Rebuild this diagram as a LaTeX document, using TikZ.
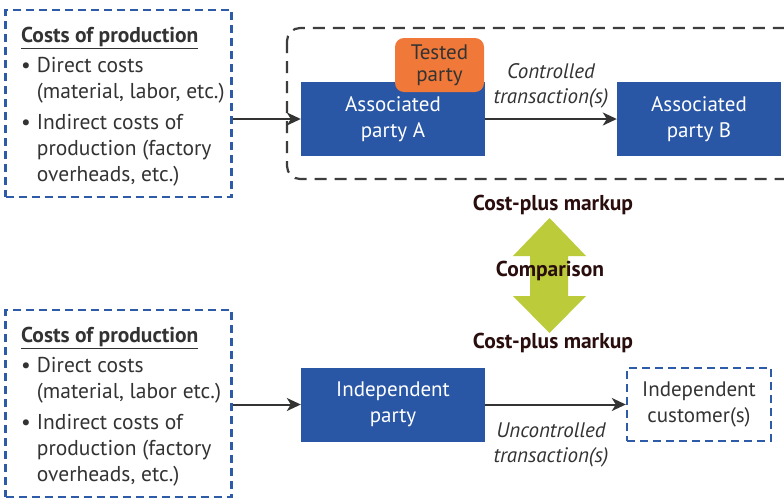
\documentclass[tikz,border=0pt]{standalone}
\usepackage{fontspec}
\setmainfont{PT Sans}
\usetikzlibrary{arrows.meta}
\definecolor{partyblue}{HTML}{2A57A5}
\definecolor{dashblue}{HTML}{2D5BA8}
\definecolor{testorange}{HTML}{F07838}
\definecolor{cmpgreen}{HTML}{BCCB3A}
\definecolor{inkgray}{HTML}{333333}
\definecolor{markupink}{HTML}{2A0E0E}
\tikzset{
  partybox/.style={fill=partyblue, text=white, minimum width=184pt, minimum height=74pt,
    align=center, inner sep=0pt, font=\fontsize{21}{25.5}\selectfont},
  costbox/.style={draw=dashblue, line width=2.4pt, dash pattern=on 8pt off 5pt,
    minimum width=226pt, minimum height=187pt, inner sep=0pt},
  custbox/.style={draw=dashblue, line width=2.4pt, dash pattern=on 8pt off 5pt,
    minimum width=144pt, minimum height=73pt, align=center, inner sep=0pt,
    text=inkgray, font=\fontsize{21}{25.5}\selectfont},
  flow/.style={draw=inkgray, line width=2pt, -{Stealth[length=14pt,width=13pt,inset=4pt]}},
  txlabel/.style={text=inkgray, align=center, font=\fontsize{21}{25.5}\selectfont\itshape},
  markup/.style={text=markupink, font=\fontsize{21.5}{24}\selectfont\bfseries},
  costtext/.style={text=inkgray, anchor=base west, inner sep=0pt,
    font=\fontsize{21.5}{26}\selectfont},
}
\newcommand{\costlist}[1]{%
  \begin{tabular}[t]{@{}l@{\hspace{6pt}}l@{}}
    \multicolumn{2}{@{}l@{}}{\bfseries\underline{Costs of production}}\\[4pt]
    \textbullet & Direct costs\\
                & (material, labor#1 etc.)\\[5pt]
    \textbullet & Indirect costs of\\
                & production (factory\\
                & overheads, etc.)
  \end{tabular}}
\begin{document}
\begin{tikzpicture}[x=1pt, y=-1pt]
\clip (0,0) rectangle (784,498);
\fill[white] (0,0) rectangle (784,498);

% ---- controlled side ----
\draw[draw=inkgray!95, line width=2.2pt, dash pattern=on 12pt off 8pt, rounded corners=13pt]
  (287,28) rectangle (820,179);

\node[costbox] (cost1) at (118.5,103.5) {};
\node[costtext] (cost1text) at (21,42) {\costlist{,}};

\node[partybox] (assocA) at (393,119) {Associated\\party A};
\node[partybox, minimum width=164pt] (assocB) at (699,119) {Associated\\party B};
\node[fill=testorange, rounded corners=9pt, minimum width=89pt, minimum height=54pt,
  inner sep=0pt, align=center, text=inkgray, font=\fontsize{21}{22}\selectfont]
  (tested) at (439.5,65) {Tested\\party};

\draw[flow] (cost1.east |- assocA.west) -- (assocA.west);
\draw[flow] (assocA.east) -- (assocB.west);
\node[txlabel] (ctrl) at (551,86) {Controlled\\transaction(s)};

% ---- comparison arrow ----
\node[markup] (mkup1) at (553,205) {Cost-plus markup};
\node[markup] (mkup2) at (553,343) {Cost-plus markup};
\fill[cmpgreen] (549.5,218) -- (586,256) -- (568,256) -- (568,296) -- (586,296)
  -- (549.5,333) -- (513,296) -- (530,296) -- (530,256) -- (513,256) -- cycle;
\node[markup] (cmp) at (550,271) {Comparison};

% ---- uncontrolled side ----
\node[costbox] (cost2) at (118.5,403.5) {};
\node[costtext] (cost2text) at (21,342) {\costlist{}};

\node[partybox] (indep) at (393,404.5) {Independent\\party};
\node[custbox] (cust) at (699,404.5) {Independent\\customer(s)};

\draw[flow] (cost2.east |- indep.west) -- (indep.west);
\draw[flow] (indep.east) -- (cust.west);
\node[txlabel] (unctrl) at (551,445) {Uncontrolled\\transaction(s)};
\end{tikzpicture}
\end{document}
